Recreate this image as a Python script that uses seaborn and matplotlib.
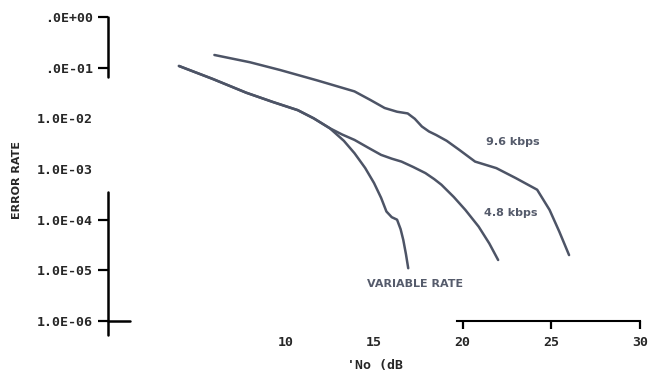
import numpy as np
import pandas as pd
import matplotlib
matplotlib.use("Agg")
import matplotlib.pyplot as plt
from matplotlib.ticker import NullLocator
import seaborn as sns

# Eb/No (dB) and error rate for each coding scheme
var_x = [4.0, 5.9, 7.8, 9.3, 10.7, 11.6, 12.5, 13.3, 13.9, 14.5, 15.0, 15.4, 15.7, 16.0, 16.3, 16.5, 16.65, 16.8, 16.93]
var_y = [1.08e-1, 6.0e-2, 3.2e-2, 2.1e-2, 1.45e-2, 1.0e-2, 6.4e-3, 3.6e-3, 2.05e-3, 1.05e-3, 5.3e-4, 2.7e-4, 1.45e-4, 1.12e-4, 1.0e-4, 6.5e-5, 4.0e-5, 2.1e-5, 1.1e-5]

k48_x = [4.0, 5.9, 7.8, 9.3, 10.7, 11.6, 12.5, 13.2, 13.9, 14.7, 15.4, 16.0, 16.55, 17.2, 17.9, 18.4, 18.8, 19.5, 20.15, 20.9, 21.5, 22.0]
k48_y = [1.08e-1, 6.0e-2, 3.2e-2, 2.1e-2, 1.45e-2, 1.0e-2, 6.4e-3, 4.8e-3, 3.75e-3, 2.6e-3, 1.9e-3, 1.6e-3, 1.4e-3, 1.1e-3, 8.3e-4, 6.3e-4, 4.9e-4, 2.8e-4, 1.56e-4, 7.3e-5, 3.4e-5, 1.6e-5]

k96_x = [6.0, 8.0, 9.7, 11.8, 13.9, 14.8, 15.6, 16.3, 16.9, 17.3, 17.7, 18.1, 18.5, 19.1, 19.8, 20.7, 21.9, 23.0, 24.2, 24.9, 25.45, 26.0]
k96_y = [1.78e-1, 1.28e-1, 9.0e-2, 5.6e-2, 3.4e-2, 2.3e-2, 1.6e-2, 1.35e-2, 1.25e-2, 9.8e-3, 6.9e-3, 5.5e-3, 4.7e-3, 3.6e-3, 2.4e-3, 1.4e-3, 1.04e-3, 6.6e-4, 3.9e-4, 1.56e-4, 5.8e-5, 2.0e-5]

y_ticks = [1e0, 1e-1, 1e-2, 1e-3, 1e-4, 1e-5, 1e-6]
y_labels = [".0E+00", ".0E-01", "1.0E-02", "1.0E-03", "1.0E-04", "1.0E-05", "1.0E-06"]
x_ticks = [10, 15, 20, 25, 30]
x_labels = ["10", "15", "20", "25", "30"]

curve_names = ["VARIABLE RATE", "4.8 kbps", "9.6 kbps"]

sns.set_style("white")
plt.rcParams["font.family"] = ["DejaVu Sans"]

W, H = 653, 385
fig = plt.figure(figsize=(W / 100, H / 100), dpi=100)
left_px, right_px = 108, 640
top_px, bot_px = 17, 321
ax = fig.add_axes([left_px / W, 1 - bot_px / H, (right_px - left_px) / W, (bot_px - top_px) / H])

ink = "#4d5466"
curves = [(var_x, var_y), (k48_x, k48_y), (k96_x, k96_y)]
for name, (xs, ys) in zip(curve_names, curves):
    df = pd.DataFrame({"ebno": xs, "err": ys})
    sns.lineplot(data=df, x="ebno", y="err", ax=ax, sort=False, estimator=None,
                 color=ink, lw=1.8)

ax.set_yscale("log")
ax.set_xlim(0, 30)
ax.set_ylim(1e-6, 1)
ax.yaxis.set_minor_locator(NullLocator())
ax.xaxis.set_minor_locator(NullLocator())
ax.set_xlabel("")
ax.set_ylabel("")

mono = dict(family="DejaVu Sans Mono", weight="bold", size=9.5)
ax.set_yticks(y_ticks)
ax.set_yticklabels(y_labels, fontdict=mono)
ax.set_xticks(x_ticks)
ax.set_xticklabels(x_labels, fontdict=mono)
ax.tick_params(axis="y", direction="out", length=7, width=1.6, color="black", pad=4, left=True)
ax.tick_params(axis="x", direction="out", length=6, width=1.6, color="black", pad=5, bottom=True)
for i, t in enumerate(ax.yaxis.get_major_ticks()):
    if i in (2, 3):
        t.tick1line.set_visible(False)
for i, t in enumerate(ax.xaxis.get_major_ticks()):
    if i in (0, 1):
        t.tick1line.set_visible(False)

for s in ["top", "right", "left"]:
    ax.spines[s].set_visible(False)
ax.spines["bottom"].set_bounds(19.7, 30)
ax.spines["bottom"].set_linewidth(1.5)
ax.spines["bottom"].set_color("black")

# broken vertical axis segments and the crossing tick at the bottom
ytr = ax.get_yaxis_transform()
ax.plot([0, 0], [1.0, 0.066], transform=ytr, color="black", lw=1.8, clip_on=False)
ax.plot([0, 0], [3.5e-4, 5.3e-7], transform=ytr, color="black", lw=1.8, clip_on=False)
ax.plot([0, 22 / (right_px - left_px)], [1e-6, 1e-6], transform=ytr, color="black", lw=1.8, clip_on=False)

# curve labels
lab = dict(color="#555b6b", fontsize=8, weight="bold", ha="center", va="center")
ax.text(22.8, 10 ** (-(142 - top_px) / 50.7), "9.6 kbps", **lab)
ax.text(22.7, 10 ** (-(213 - top_px) / 50.7), "4.8 kbps", **lab)
ax.text(17.3, 10 ** (-(284 - top_px) / 50.7), "VARIABLE RATE", **lab)

fig.text(17 / W, 1 - 180 / H, "ERROR RATE", rotation=90, ha="center", va="center",
         family="DejaVu Sans", weight="bold", size=8)
fig.text(375 / W, 1 - 366 / H, "'No (dB", ha="center", va="center", **mono)

fig.savefig("out.png", dpi=100)
